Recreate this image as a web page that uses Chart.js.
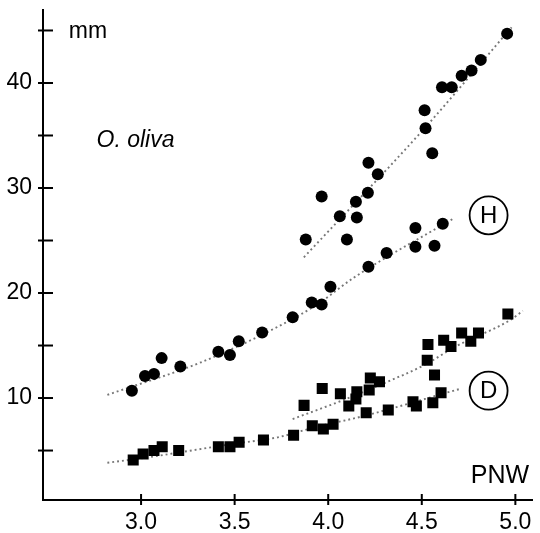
<!DOCTYPE html>
<html>
<head>
<meta charset="utf-8">
<script src="https://cdn.jsdelivr.net/npm/chart.js@4/dist/chart.umd.min.js"></script>
<style>
  body { margin: 0; background: #fff; }
  #wrap { width: 540px; height: 533px; }
</style>
</head>
<body>
<div id="wrap"><canvas id="chart" width="540" height="533"></canvas></div>
<script>
// axis ticks
const xTickValues = [3.0, 3.5, 4.0, 4.5, 5.0];
const yTickValues = [5, 10, 15, 20, 25, 30, 35, 40, 45];
const yLabelValues = [10, 20, 30, 40];

// H, circles: upper branch
const hUpperX = [3.88, 3.965, 4.062, 4.10, 4.148, 4.153, 4.212, 4.215, 4.265, 4.515, 4.52, 4.556, 4.608, 4.66, 4.713, 4.766, 4.815, 4.956];
const hUpperY = [25.1, 29.2, 27.3, 25.1, 28.7, 27.2, 29.55, 32.4, 31.3, 37.4, 35.7, 33.3, 39.6, 39.6, 40.7, 41.2, 42.2, 44.7];
// H, circles: lower branch
const hLowerX = [2.951, 3.021, 3.069, 3.11, 3.21, 3.413, 3.475, 3.522, 3.647, 3.81, 3.912, 3.965, 4.012, 4.215, 4.312, 4.466, 4.568, 4.466, 4.612];
const hLowerY = [10.7, 12.1, 12.3, 13.8, 13.0, 14.4, 14.1, 15.4, 16.25, 17.7, 19.1, 18.9, 20.6, 22.5, 23.8, 24.4, 24.5, 26.2, 26.6];
// D, squares: upper branch
const dUpperX = [3.871, 3.968, 4.065, 4.11, 4.148, 4.153, 4.219, 4.225, 4.274, 4.529, 4.533, 4.568, 4.617, 4.656, 4.713, 4.762, 4.803, 4.96];
const dUpperY = [9.3, 10.9, 10.4, 9.24, 9.9, 10.6, 10.76, 11.9, 11.55, 13.6, 15.1, 12.2, 15.5, 14.9, 16.2, 15.4, 16.2, 18.0];
// D, squares: lower branch
const dLowerX = [2.958, 3.011, 3.069, 3.113, 3.201, 3.413, 3.475, 3.524, 3.654, 3.815, 3.915, 3.974, 4.026, 4.203, 4.321, 4.453, 4.471, 4.559, 4.603];
const dLowerY = [4.1, 4.67, 5.0, 5.36, 5.0, 5.36, 5.36, 5.78, 6.0, 6.45, 7.36, 7.05, 7.5, 8.6, 8.86, 9.65, 9.24, 9.55, 10.5];

// dotted trend curves
const trendHUpperX = [3.87, 4.5, 4.98];
const trendHUpperY = [23.4, 35.4, 45.3];
const trendHLowerX = [2.82, 3.32, 3.71, 3.94, 4.14, 4.67];
const trendHLowerY = [10.3, 13.4, 16.6, 18.9, 21.5, 27.1];
const trendDUpperX = [3.81, 4.08, 4.31, 4.52, 4.68, 4.97, 5.04];
const trendDUpperY = [8.0, 9.8, 11.5, 13.2, 14.9, 17.4, 18.3];
const trendDLowerX = [2.82, 3.0, 3.48, 3.73, 3.94, 4.17, 4.71];
const trendDLowerY = [3.84, 4.26, 5.6, 6.26, 7.27, 8.2, 10.9];

const FONT = "'Liberation Sans', Arial, sans-serif";

function pts(xs, ys) {
  return xs.map((x, i) => ({ x: x, y: ys[i] }));
}

function markers(xs, ys, style, r) {
  return {
    type: 'scatter',
    data: pts(xs, ys),
    pointStyle: style,
    pointRadius: r,
    pointBackgroundColor: '#000',
    pointBorderWidth: 0,
    order: 0
  };
}

function trend(xs, ys) {
  return {
    type: 'line',
    data: pts(xs, ys),
    showLine: true,
    borderColor: '#777',
    borderWidth: 1.9,
    borderDash: [1.9, 3],
    pointRadius: 0,
    cubicInterpolationMode: 'monotone',
    fill: false,
    order: 1
  };
}

function noPad(s) {
  s.paddingTop = 0;
  s.paddingBottom = 0;
  s.paddingLeft = 0;
  s.paddingRight = 0;
}

// ticks that cross the axis lines, plus the text labels
const extras = {
  id: 'extras',
  afterDraw(chart) {
    const ctx = chart.ctx;
    const xs = chart.scales.x, ys = chart.scales.y;
    const area = chart.chartArea;
    ctx.save();
    ctx.strokeStyle = '#000';
    ctx.lineWidth = 2;
    xTickValues.forEach(v => {
      const px = xs.getPixelForValue(v);
      ctx.beginPath();
      ctx.moveTo(px, area.bottom - 6);
      ctx.lineTo(px, area.bottom + 5);
      ctx.stroke();
    });
    yTickValues.forEach(v => {
      const py = ys.getPixelForValue(v);
      ctx.beginPath();
      ctx.moveTo(area.left - 5, py);
      ctx.lineTo(area.left + 10, py);
      ctx.stroke();
    });

    ctx.fillStyle = '#000';
    ctx.textBaseline = 'alphabetic';
    ctx.textAlign = 'left';
    ctx.font = '23px ' + FONT;
    ctx.fillText('mm', xs.getPixelForValue(2.614), ys.getPixelForValue(44.3));
    ctx.font = 'italic 23px ' + FONT;
    ctx.fillText('O. oliva', xs.getPixelForValue(2.762), ys.getPixelForValue(33.9));
    ctx.font = '25px ' + FONT;
    ctx.fillText('PNW', xs.getPixelForValue(4.762), ys.getPixelForValue(1.9));

    ctx.textAlign = 'center';
    ctx.textBaseline = 'middle';
    ctx.font = '24px ' + FONT;
    ctx.lineWidth = 1.8;
    [['H', 4.857, 27.4], ['D', 4.857, 10.7]].forEach(([t, vx, vy]) => {
      const cx = xs.getPixelForValue(vx), cy = ys.getPixelForValue(vy);
      ctx.beginPath();
      ctx.arc(cx, cy, 19, 0, Math.PI * 2);
      ctx.stroke();
      ctx.fillText(t, cx, cy + 1);
    });
    ctx.restore();
  }
};

new Chart(document.getElementById('chart'), {
  type: 'scatter',
  data: {
    datasets: [
      markers(hUpperX, hUpperY, 'circle', 6),
      markers(hLowerX, hLowerY, 'circle', 6),
      markers(dUpperX, dUpperY, 'rect', 7.8),
      markers(dLowerX, dLowerY, 'rect', 7.8),
      trend(trendHUpperX, trendHUpperY),
      trend(trendHLowerX, trendHLowerY),
      trend(trendDUpperX, trendDUpperY),
      trend(trendDLowerX, trendDLowerY)
    ]
  },
  options: {
    responsive: false,
    animation: false,
    layout: { padding: { top: 10, right: 3, left: 0, bottom: 0 } },
    plugins: { legend: { display: false }, tooltip: { enabled: false } },
    scales: {
      x: {
        type: 'linear',
        min: 2.476,
        max: 5.09,
        afterBuildTicks: s => { s.ticks = xTickValues.map(v => ({ value: v })); },
        afterFit: s => { s.height = 33; noPad(s); },
        grid: { display: false, drawTicks: false },
        border: { display: true, color: '#000', width: 2 },
        ticks: {
          color: '#000',
          padding: 9,
          maxRotation: 0,
          font: { family: FONT, size: 23 },
          callback: v => v.toFixed(1)
        }
      },
      y: {
        type: 'linear',
        min: 0.29,
        max: 46.95,
        afterBuildTicks: s => { s.ticks = yTickValues.map(v => ({ value: v })); },
        afterFit: s => { s.width = 43; noPad(s); },
        grid: { display: false, drawTicks: false },
        border: { display: true, color: '#000', width: 2 },
        ticks: {
          color: '#000',
          padding: 11,
          font: { family: FONT, size: 23 },
          callback: v => (yLabelValues.includes(v) ? String(v) : '')
        }
      }
    }
  },
  plugins: [extras]
});
</script>
</body>
</html>
